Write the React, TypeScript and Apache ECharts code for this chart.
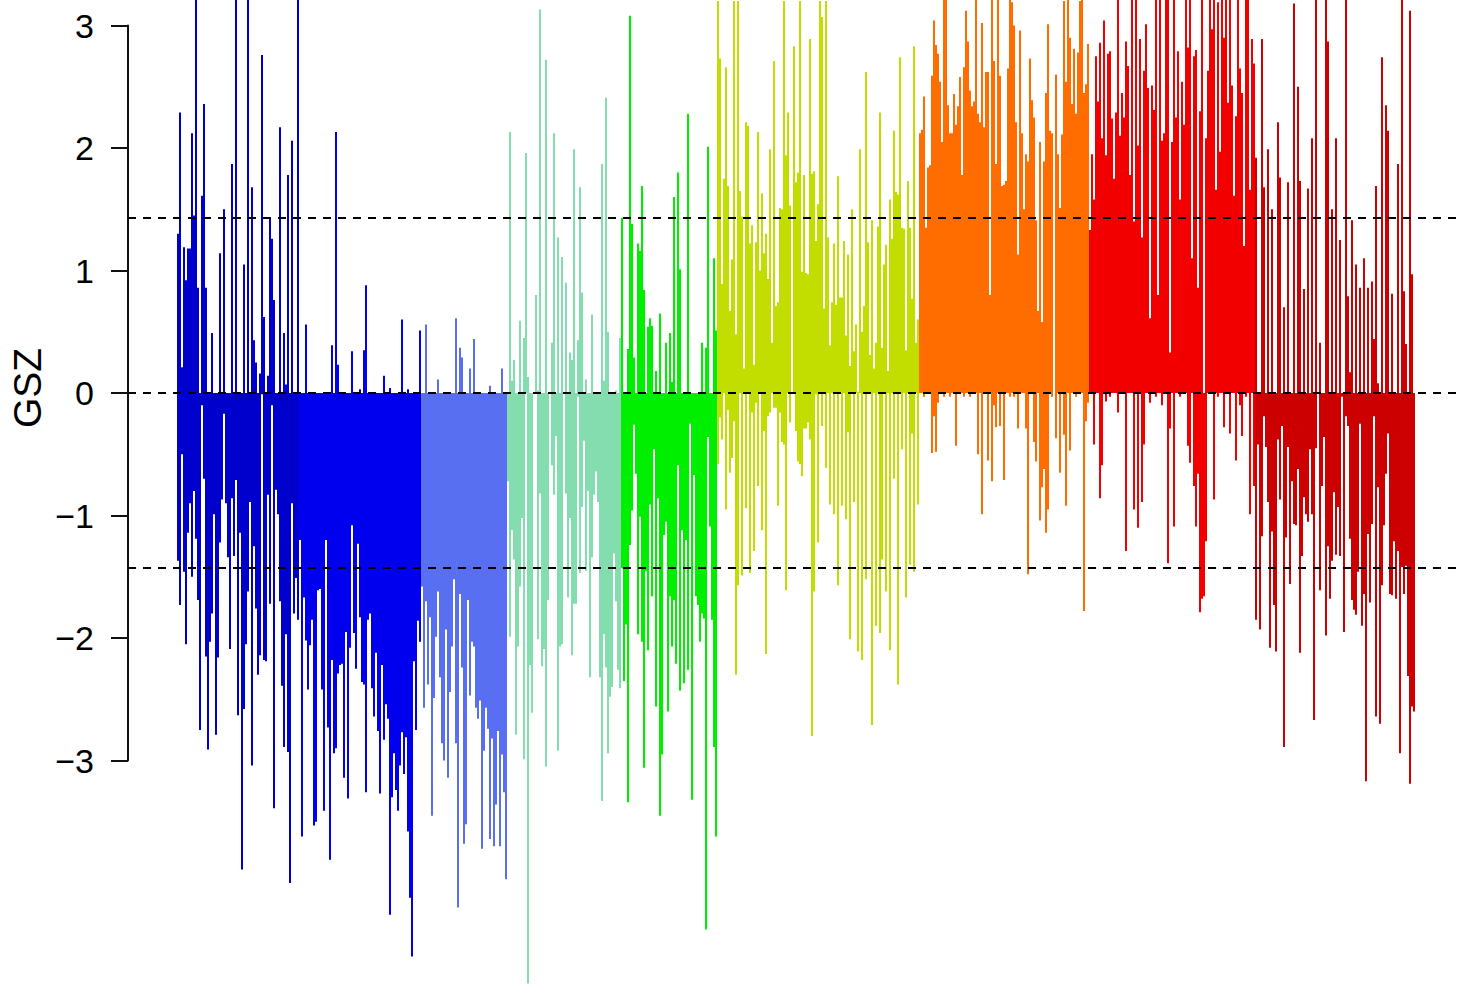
import React, { useEffect, useRef } from "react";
import * as echarts from "echarts";

// Gene modules, left to right, and their colours
const moduleNames = ["mediumblue", "blue2", "royalblue", "aquamarine", "green2", "yellowgreen", "orange", "red", "darkred"];
const moduleColors = ["#0000CD", "#0000EE", "#586FF1", "#83DDAE", "#00EE00", "#C2DE00", "#FF6D00", "#F20000", "#CC0000"];

// GSZ values per module (each column holds one up-regulated and one down-regulated gene)
const mod1Pos = [1.3, 2.29, 0.21, 1.19, 0.92, 1.18, 1.18, 2.12, 1.45, 3.3, 0.86, 0, 1.61, 2.36, 0.86, 0, 0, 0.49, 0, 0, 0, 1.14, 0, 1.5, 0, 0, 0, 1.87, 0, 3.3, 0, 0, 0, 1.05, 0, 3.3, 0, 1.68, 0.43, 0.25, 0, 0.16, 2.76, 0.62, 0, 0.14, 1.43, 1.26, 0.76, 0, 0, 2.17, 0, 0.49, 0.07, 1.78, 0, 2.06, 0, 0, 3.3];
const mod1Neg = [-1.37, -1.73, -0.5, -1.46, -2.05, -1.14, -0.9, -1.5, -0.8, -1.19, -1.69, -2.75, -0.1, -0.7, -2.15, -2.91, -2.03, -1.8, -0.99, -2.79, -2.16, -1.22, -0.87, -0.17, -0.9, -1.34, -2.09, -0.86, -1.33, -0.71, -2.63, -1.14, -3.89, -2.58, -2.05, -1.62, -0.89, -3.04, -1.25, -1.76, -2.3, -2.14, -0.01, -2.18, -2.19, -0.83, -1.72, -0.1, -3.39, -0.79, -0.99, -1.7, -2.39, -2.89, -1.97, -2.93, -4.0, -0.9, -1.8, -1.51, -1.85];

const mod2Pos = [0, 0, 0, 0.56, 0, 0, 0, 0, 0, 0, 0, 0, 0, 0, 0, 0, 0.39, 0, 2.13, 0.23, 0, 0, 0, 0, 0, 0, 0.34, 0, 0, 0, 0.03, 0, 0.35, 0.88, 0, 0, 0, 0, 0, 0, 0, 0, 0.14, 0, 0, 0.04, 0, 0, 0, 0, 0, 0.6, 0, 0, 0.03, 0, 0, 0, 0, 0, 0.51];
const mod2Neg = [-1.2, -3.62, -1.67, -2.02, -2.42, -2.06, -1.85, -3.53, -3.5, -1.61, -1.6, -2.42, -3.41, -1.2, -2.73, -3.81, -2.18, -2.94, -2.9, -2.29, -2.22, -2.21, -3.14, -1.95, -3.31, -2.08, -1.08, -1.96, -2.25, -1.23, -1.83, -2.36, -2.38, -3.26, -1.85, -1.8, -2.41, -2.64, -2.12, -2.76, -3.27, -2.22, -2.83, -2.54, -2.66, -4.26, -3.3, -2.94, -3.24, -3.41, -3.04, -2.77, -3.11, -2.81, -3.58, -4.12, -4.6, -2.19, -2.75, -1.86, -2.03];

const mod3Pos = [0, 0, 0.56, 0, 0, 0, 0, 0, 0.11, 0, 0, 0, 0, 0, 0, 0, 0, 0.61, 0, 0.37, 0.29, 0, 0, 0, 0.2, 0, 0.44, 0, 0, 0, 0, 0, 0, 0, 0.06, 0, 0, 0, 0, 0, 0.2, 0, 0];
const mod3Neg = [-1.58, -2.57, -1.7, -2.38, -1.83, -3.45, -2.49, -1.99, -1.62, -2.32, -2.86, -3.0, -1.93, -3.14, -2.44, -2.07, -1.52, -2.86, -4.2, -1.64, -2.24, -3.68, -3.52, -1.69, -2.47, -2.03, -2.07, -2.57, -2.66, -2.51, -3.72, -2.92, -2.57, -2.74, -3.64, -2.82, -3.7, -3.36, -2.76, -3.7, -2.95, -3.26, -3.97];

const mod4Pos = [0, 2.13, 0.1, 0.27, 0, 0, 0.59, 0, 0.45, 1.96, 0.13, 0, 0, 0, 0.8, 0.02, 3.13, 0, 0, 2.72, 0, 0, 0.41, 2.12, 0, 1.27, 0, 1.11, 0, 0.9, 0, 0.33, 0.27, 1.99, 0, 0.43, 1.68, 0.82, 0, 0.11, 0, 0, 0.64, 0, 0, 0, 0, 1.87, 0.1, 2.41, 0.5, 0, 0, 0, 0.02, 0, 0.45];
const mod4Neg = [-0.72, -1.99, -1.12, -1.36, -2.79, -2.07, -1.58, -1.02, -2.99, 0, -4.82, -2.22, -2.61, 0, 0, -2.01, -0.82, -2.23, -2.09, -3.05, -1.69, 0, -0.59, -0.83, -0.35, -2.92, -2.07, -2.05, 0, -0.82, -1.67, -1.02, -2.14, -1.72, -1.72, -0.03, -1.47, -0.93, -0.39, -1.45, -0.8, -2.32, -1.34, -0.83, -0.64, -0.89, -2.32, -3.33, -1.97, -2.24, -2.94, -2.48, -2.4, -1.31, -1.7, -2.26, -2.41];

const mod5Pos = [1.43, 0, 0, 0.36, 3.08, 1.38, 0.29, 0, 1.22, 1.16, 1.69, 0.84, 0, 0.54, 0.61, 0.55, 0, 0.18, 0, 0.65, 0, 0, 0.41, 0, 0.49, 0.09, 1.6, 0, 1.8, 1.01, 0, 0, 0, 2.28, 0, 0, 0, 0, 0, 0, 0.41, 0, 0.37, 2.01, 0, 0, 1.1, 0.51];
const mod5Neg = [-1.43, -2.35, -1.89, -3.34, -1.24, -0.96, -0.26, -0.66, -1.97, -1.01, -2.03, -3.06, -1.45, -2.1, -0.91, -1.66, -0.46, -2.56, -0.86, -3.45, -2.95, -1.16, -1.05, -2.6, -1.66, -2.07, -1.69, -2.21, -0.59, -2.43, -1.12, -2.37, -1.2, -2.26, -0.25, -3.32, -0.67, -1.66, -1.73, -2.03, -1.8, -1.84, -4.38, -0.36, -1.09, -1.85, -2.89, -3.62];

const mod6Pos = [3.2, 2.73, 0.89, 1.75, 2.66, 1.69, 0.67, 1.09, 3.2, 0.48, 3.2, 1.65, 1.44, 0.2, 2.21, 2.18, 1.22, 1.37, 0.23, 1.23, 2.13, 1.0, 1.63, 1.14, 1.3, 0.93, 1.99, 0.41, 2.71, 0.71, 0.74, 1.51, 1.5, 3.2, 1.94, 2.29, 1.53, 0, 2.83, 1.72, 1.8, 3.2, 0.99, 1.78, 0.98, 0.97, 2.89, 1.79, 1.81, 1.24, 1.54, 3.2, 3.07, 0.69, 3.2, 1.27, 0.39, 0.74, 1.22, 0.72, 1.77, 0.78, 0.78, 1.24, 0.47, 1.13, 0.22, 1.5, 0.34, 0.56, 0.01, 1.99, 0.5, 0.71, 2.62, 1.23, 0.31, 1.41, 0.2, 0.41, 1.36, 2.29, 0.37, 1.05, 1.21, 0.18, 1.58, 1.26, 2.14, 1.64, 1.62, 2.74, 1.35, 1.34, 0.35, 1.73, 1.35, 0.77, 2.83, 0.41, 0.6];
const mod6Neg = [-0.58, -0.2, -0.38, 0, -0.95, -0.14, -0.65, -0.53, -0.23, -2.3, -1.57, 0, -1.49, 0, -0.94, 0, -1.47, -0.16, -1.29, -0.08, -0.76, 0, -1.12, -0.31, -2.13, -0.19, -0.16, 0, -0.12, -0.12, -0.92, -0.16, -0.4, -0.42, -1.61, 0, -0.24, 0, -0.01, -0.31, -0.56, -0.58, -0.68, -0.29, -0.29, -0.24, -0.38, -2.8, -1.62, -0.01, -1.22, 0, -0.27, 0, -0.61, 0, -0.91, 0, -0.99, 0, -1.57, 0, -0.92, 0, -1.03, -0.32, -2.01, 0, -0.89, 0, -2.11, 0, -2.18, 0, -1.52, 0, 0, -2.71, 0, -1.9, 0, -1.96, -1.36, 0, -1.62, 0, -2.1, 0, -0.7, 0, -2.38, 0, -0.46, 0, -1.67, 0, -1.4, -0.33, -1.46, 0, -0.91];

const mod7Pos = [2.12, 2.15, 2.42, 1.35, 1.84, 1.86, 2.59, 3.04, 2.84, 2.77, 2.54, 2.05, 3.3, 3.3, 2.35, 2.12, 2.12, 2.44, 2.19, 2.34, 2.58, 1.78, 2.66, 3.12, 2.87, 2.47, 2.34, 2.38, 3.3, 2.28, 2.21, 3.02, 2.17, 2.62, 2.62, 0.8, 3.3, 2.71, 1.87, 3.3, 2.59, 1.69, 1.7, 1.73, 2.65, 3.3, 3.19, 3.0, 2.21, 1.13, 2.96, 2.12, 1.5, 1.95, 1.89, 2.73, 2.39, 2.25, 1.41, 0.67, 2.05, 0.58, 1.89, 2.45, 3.01, 2.14, 2.12, 0, 2.6, 1.95, 1.51, 2.11, 3.2, 2.54, 3.3, 2.9, 2.36, 2.81, 2.28, 2.78, 3.2, 3.3, 2.45, 2.52, 2.85];
const mod7Neg = [0, 0, -0.03, 0, 0, 0, -0.49, -0.19, -0.48, -0.08, 0, 0, -0.03, 0, 0, -0.03, 0, 0, -0.43, 0, 0, 0, -0.03, 0, 0, -0.03, 0, 0, 0, -0.5, 0, -0.99, 0, 0, -0.55, 0, -0.72, -0.1, -0.28, 0, -0.27, 0, -0.71, 0, 0, -0.03, 0, -0.03, 0, -0.29, 0, 0, 0, -0.29, -1.48, 0, 0, -0.4, -0.56, 0, -1.04, -0.77, -0.62, -1.14, -0.95, 0, -0.03, 0, -0.37, 0, -0.65, 0, -0.34, -0.92, 0, -0.47, 0, 0, -0.03, 0, 0, 0, -1.78, -0.23, -0.08];

const mod8Pos = [1.33, 1.95, 1.58, 2.75, 2.38, 2.86, 2.08, 3.04, 1.94, 2.77, 2.79, 2.24, 1.75, 2.29, 3.3, 2.1, 2.45, 2.25, 2.87, 2.67, 1.78, 3.3, 1.4, 3.3, 2.02, 2.89, 1.27, 2.63, 3.01, 2.49, 0.61, 2.51, 2.31, 3.3, 0.8, 3.3, 2.06, 2.12, 3.3, 3.3, 0.33, 2.05, 3.3, 2.25, 2.79, 1.58, 2.54, 2.19, 3.3, 2.82, 3.3, 1.1, 2.75, 2.8, 0.86, 2.3, 3.3, 0, 2.08, 2.63, 3.3, 2.97, 3.3, 1.66, 3.19, 1.97, 3.3, 2.9, 3.3, 2.37, 3.3, 2.51, 1.61, 2.26, 3.3, 2.65, 2.45, 1.2, 3.3, 3.3, 1.66, 2.89, 2.69];
const mod8Neg = [0, 0, -0.42, 0, 0, -0.86, -0.59, 0, -0.07, 0, -0.03, 0, 0, 0, -0.16, 0, 0, 0, -1.29, 0, 0, 0, -0.95, 0, -1.1, 0, -0.89, -0.42, 0, 0, -0.08, 0, 0, -0.03, 0, 0, -0.1, 0, 0, -1.39, -0.29, 0, -1.09, 0, 0, -0.03, 0, 0, 0, -0.43, -0.57, 0, -0.76, -1.09, -0.66, -1.79, -1.68, -1.66, -1.21, 0, 0, 0, -0.87, 0, -0.03, 0, 0, -0.28, 0, 0, -0.33, 0, 0, -0.55, 0, -0.1, -0.35, 0, -0.03, 0, -0.99, 0, -0.76];

const mod9Pos = [1.92, 0, 0, 2.89, 1.68, 0, 1.99, 0, 1.5, 0, 0, 2.21, 1.76, 0, 0.7, 0, 1.72, 0, 0, 3.18, 0, 2.5, 1.73, 0, 0.85, 0, 1.67, 0, 2.08, 0, 3.3, 0, 0.41, 0, 0, 3.3, 2.87, 0, 1.5, 0, 2.08, 0, 1.25, 0, 0, 3.3, 0.79, 0.17, 1.41, 0, 1.05, 0, 0.86, 0, 1.1, 0, 0.86, 0, 0.91, 0.44, 1.69, 0.08, 0, 2.74, 0, 2.35, 2.14, 0, 0.81, 0, 0, 1.87, 0, 3.3, 0.83, 0.4, 0, 3.12, 0.97, 0];
const mod9Neg = [-1.85, -0.42, -1.93, -1.17, -0.19, -0.44, -0.89, -2.08, -1.13, -1.73, -2.11, -0.38, -0.87, -0.27, -2.89, -1.18, -0.44, -1.56, -0.72, -1.07, -1.08, -0.62, -2.12, -1.33, -0.85, -0.99, -1.05, -0.46, -0.99, -2.67, -0.45, 0, -1.61, -0.76, -0.36, -1.98, -1.25, -1.68, -1.37, -0.81, -1.32, -0.93, -1.33, -0.03, -1.95, -0.19, -0.27, -1.19, -1.69, -1.77, -1.81, -1.46, -0.25, -1.9, -1.64, -3.17, -1.15, -1.71, -1.07, -0.19, -2.64, -0.77, -2.7, -1.57, -1.08, -0.66, -0.33, -1.64, -1.65, -1.21, -1.68, -1.29, -2.94, -1.42, -1.64, -1.41, -2.31, -3.19, -2.56, -2.6];

// Significance thresholds (dashed lines) and the y tick range
const referenceLines = [1.43, 0, -1.43];
const yTickMin = -3;
const yTickMax = 3;
const yTickStep = 1;

const modulePos = [mod1Pos, mod2Pos, mod3Pos, mod4Pos, mod5Pos, mod6Pos, mod7Pos, mod8Pos, mod9Pos];
const moduleNeg = [mod1Neg, mod2Neg, mod3Neg, mod4Neg, mod5Neg, mod6Neg, mod7Neg, mod8Neg, mod9Neg];

const FONT = "'Liberation Sans', Arial, Helvetica, sans-serif";

export default function App() {
  const ref = useRef<HTMLDivElement>(null);

  useEffect(() => {
    if (!ref.current) return;
    const chart = echarts.init(ref.current, null, { renderer: "svg" });

    const total = modulePos.reduce((s, a) => s + a.length, 0);
    const columns = Array.from({ length: total }, (_, i) => String(i));
    const series: any[] = [];
    let start = 0;
    modulePos.forEach((pos, g) => {
      const neg = moduleNeg[g];
      const offset = start;
      const pad = (arr: number[]) => {
        const out: any[] = new Array(total).fill("-");
        arr.forEach((v, i) => {
          out[offset + i] = v;
        });
        return out;
      };
      [pos, neg].forEach((arr, k) => {
        series.push({
          type: "bar",
          name: moduleNames[g] + (k === 0 ? " up" : " down"),
          xAxisIndex: 1,
          yAxisIndex: 1,
          data: pad(arr),
          barWidth: "100%",
          barGap: "-100%",
          barCategoryGap: "0%",
          itemStyle: { color: moduleColors[g] },
          silent: true,
          z: 2,
        });
      });
      start += pos.length;
    });

    series.push({
      type: "line",
      xAxisIndex: 0,
      yAxisIndex: 0,
      data: [
        [0, 0],
        [1, 0],
      ],
      symbol: "none",
      lineStyle: { opacity: 0 },
      silent: true,
      z: 10,
      markLine: {
        silent: true,
        symbol: ["none", "none"],
        label: { show: false },
        z: 10,
        lineStyle: { color: "#000", width: 2, type: [8, 7] },
        data: referenceLines.map((v) => ({ yAxis: v })),
      },
    });

    chart.setOption({
      animation: false,
      backgroundColor: "#fff",
      grid: [
        { left: 128, right: 0, top: 25.5, bottom: 225.5, containLabel: false, outerBoundsMode: "none" },
        { left: 177, right: 43, top: 0, bottom: 0, containLabel: false, outerBoundsMode: "none" },
      ],
      xAxis: [
        { type: "value", gridIndex: 0, min: 0, max: 1, show: false },
        { type: "category", gridIndex: 1, data: columns, show: false, boundaryGap: true },
      ],
      yAxis: [
        {
          type: "value",
          gridIndex: 0,
          min: yTickMin,
          max: yTickMax,
          interval: yTickStep,
          axisLine: { show: true, onZero: false, lineStyle: { color: "#111", width: 2 } },
          axisTick: { show: true, length: 17, lineStyle: { color: "#111", width: 2 } },
          axisLabel: {
            show: true,
            margin: 34,
            fontSize: 34,
            fontFamily: FONT,
            color: "#000",
            formatter: (v: number) => (v < 0 ? "\u2212" + Math.abs(v) : String(v)),
          },
          splitLine: { show: false },
        },
        {
          type: "value",
          gridIndex: 1,
          min: -4.8408,
          max: 3.2082,
          show: false,
          splitLine: { show: false },
        },
      ],
      graphic: [
        {
          type: "text",
          x: 27.5,
          y: 388,
          rotation: Math.PI / 2,
          silent: true,
          style: {
            text: "GSZ",
            fontSize: 39,
            fontFamily: FONT,
            fill: "#000",
            align: "center",
            verticalAlign: "middle",
            textAlign: "center",
            textVerticalAlign: "middle",
          },
        },
      ],
      series,
    });

    return () => chart.dispose();
  }, []);

  return (
    <div
      ref={ref}
      style={{ position: "fixed", left: 0, top: 0, width: 1458, height: 986, background: "#fff" }}
    />
  );
}
